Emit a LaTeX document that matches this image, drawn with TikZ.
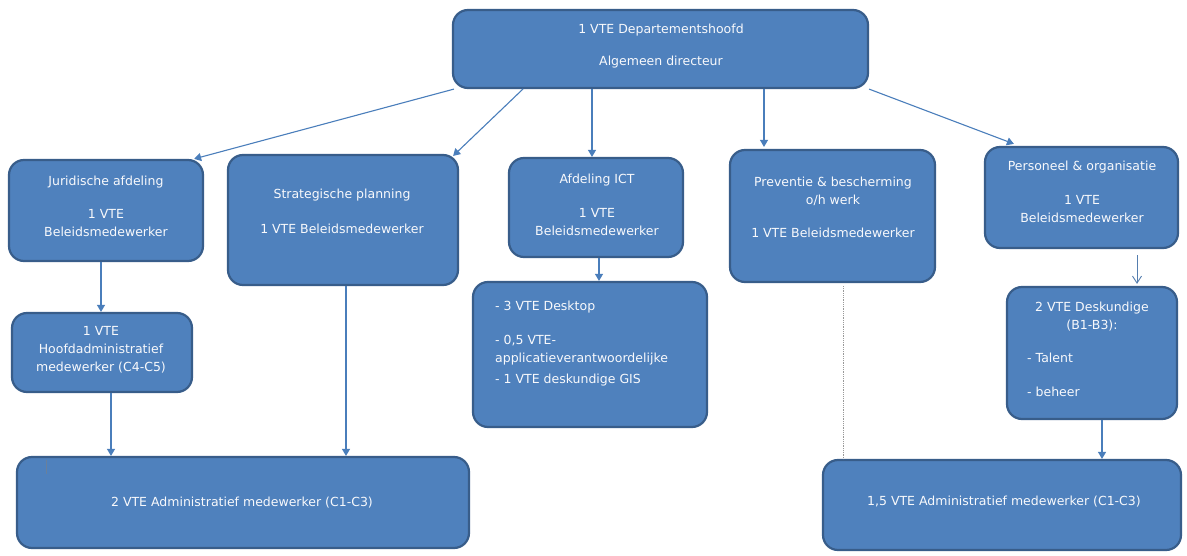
\documentclass[tikz,border=0pt]{standalone}
\usepackage{fontspec}
\setmainfont{DejaVu Sans}
\usetikzlibrary{arrows.meta,calc}
\definecolor{boxfill}{HTML}{4F81BD}
\definecolor{boxedge}{HTML}{385D8A}
\definecolor{linkc}{HTML}{4A7EBB}
\definecolor{txtc}{HTML}{F8F9FC}
\begin{document}
\begin{tikzpicture}[x=1pt,y=-1pt,
  orgbox/.style={draw=boxedge,fill=boxfill,line width=2.2pt,rounded corners=15pt,inner sep=0pt},
  lbl/.style={text=txtc,inner sep=0pt,align=center,font=\fontsize{12.5}{18}\selectfont},
  lbll/.style={lbl,align=left,anchor=west},
  link/.style={draw=linkc,line width=1.1pt,-{Triangle[width=8pt,length=7pt]}},
  openlink/.style={draw=linkc!80!gray,line width=0.9pt,-{Straight Barb[width=9pt,length=7pt]}},
  dotlink/.style={draw=gray!80,line width=0.8pt,densely dotted}]
\useasboundingbox (0,0) rectangle (1187,556);
\fill[white] (0,0) rectangle (1187,556);
% boxes
\node[orgbox,minimum width=415pt,minimum height=78pt] (top) at (660.5,49) {};
\node[orgbox,minimum width=194pt,minimum height=101pt] (jur) at (106,210.5) {};
\node[orgbox,minimum width=230pt,minimum height=130pt] (str) at (343,220) {};
\node[orgbox,minimum width=174pt,minimum height=99pt] (ict) at (596,207.5) {};
\node[orgbox,minimum width=234pt,minimum height=145pt] (lst) at (590,354.5) {};
\node[orgbox,minimum width=205pt,minimum height=132pt] (prev) at (832.5,216) {};
\node[orgbox,minimum width=193pt,minimum height=101pt] (pers) at (1081.5,197.5) {};
\node[orgbox,minimum width=170pt,minimum height=132pt] (desk) at (1092,353) {};
\node[orgbox,minimum width=180pt,minimum height=79pt] (hoof) at (102,352.5) {};
\node[orgbox,minimum width=452pt,minimum height=91pt] (botL) at (243,502.5) {};
\node[orgbox,minimum width=358pt,minimum height=90pt] (botR) at (1002,505) {};
% texts
\node[lbl] (t1) at (661,30) {1 VTE Departementshoofd};
\node[lbl] (t2) at (661,62) {Algemeen directeur};
\node[lbl] (j1) at (106,182) {Juridische afdeling};
\node[lbl] (j2) at (106,223.5) {1 VTE\\Beleidsmedewerker};
\node[lbl] (s1) at (342,195) {Strategische planning};
\node[lbl] (s2) at (342,229) {1 VTE Beleidsmedewerker};
\node[lbl] (i1) at (597,180) {Afdeling ICT};
\node[lbl] (i2) at (597,222.5) {1 VTE\\Beleidsmedewerker};
\node[lbll] (l1) at (495,307) {- 3 VTE Desktop};
\node[lbll] (l2) at (495,350) {- 0,5 VTE-\\applicatieverantwoordelijke};
\node[lbll] (l3) at (495,380) {- 1 VTE deskundige GIS};
\node[lbl] (p1) at (833,191.5) {Preventie \& bescherming\\o/h werk};
\node[lbl] (p2) at (833,233) {1 VTE Beleidsmedewerker};
\node[lbl] (q1) at (1082,167) {Personeel \& organisatie};
\node[lbl] (q2) at (1082,209.5) {1 VTE\\Beleidsmedewerker};
\node[lbl] (d1) at (1092,317) {2 VTE Deskundige\\(B1-B3):};
\node[lbll] (d2) at (1027,358) {- Talent};
\node[lbll] (d3) at (1027,392) {- beheer};
\node[lbl] (h1) at (101,350) {1 VTE\\Hoofdadministratief\\medewerker (C4-C5)};
\node[lbl] (b1) at (242,503) {2 VTE Administratief medewerker (C1-C3)};
\node[lbl] (b2) at (1004,502) {1,5 VTE Administratief medewerker (C1-C3)};
% small mark
\draw[gray!55!boxfill,line width=1pt] ($(botL.north west)+(31,4)$) -- ($(botL.north west)+(31,18)$);
% connectors
\draw[link] ([xshift=2pt]top.south west) -- ([xshift=-10pt]jur.north east);
\draw[link] ([xshift=71pt]top.south west) -- ([xshift=-6pt,yshift=-2pt]str.north east);
\draw[link] ([xshift=-4pt]ict.north |- top.south) -- ([xshift=-4pt]ict.north);
\draw[link] ([xshift=-68.5pt]prev.north |- top.south) -- ([xshift=-68.5pt,yshift=2pt]prev.north);
\draw[link] (top.south east) -- ([xshift=30pt,yshift=2pt]pers.north west);
\draw[link] ([xshift=-5pt]jur.south) -- ([xshift=-5pt]jur.south |- hoof.north);
\draw[link] ([xshift=9pt]hoof.south) -- ([xshift=9pt]hoof.south |- botL.north);
\draw[link] ([xshift=3pt]str.south) -- ([xshift=3pt]str.south |- botL.north);
\draw[link] ([xshift=3pt]ict.south) -- ([xshift=3pt]ict.south |- lst.north);
\draw[dotlink] ([xshift=10.5pt,yshift=-3pt]prev.south) -- ([xshift=10.5pt]prev.south |- botR.north);
\draw[openlink] ([xshift=55.5pt,yshift=-6pt]pers.south) -- ([xshift=55.5pt,yshift=2pt]pers.south |- desk.north);
\draw[link] ([xshift=10pt]desk.south) -- ([xshift=10pt]desk.south |- botR.north);
\end{tikzpicture}
\end{document}
